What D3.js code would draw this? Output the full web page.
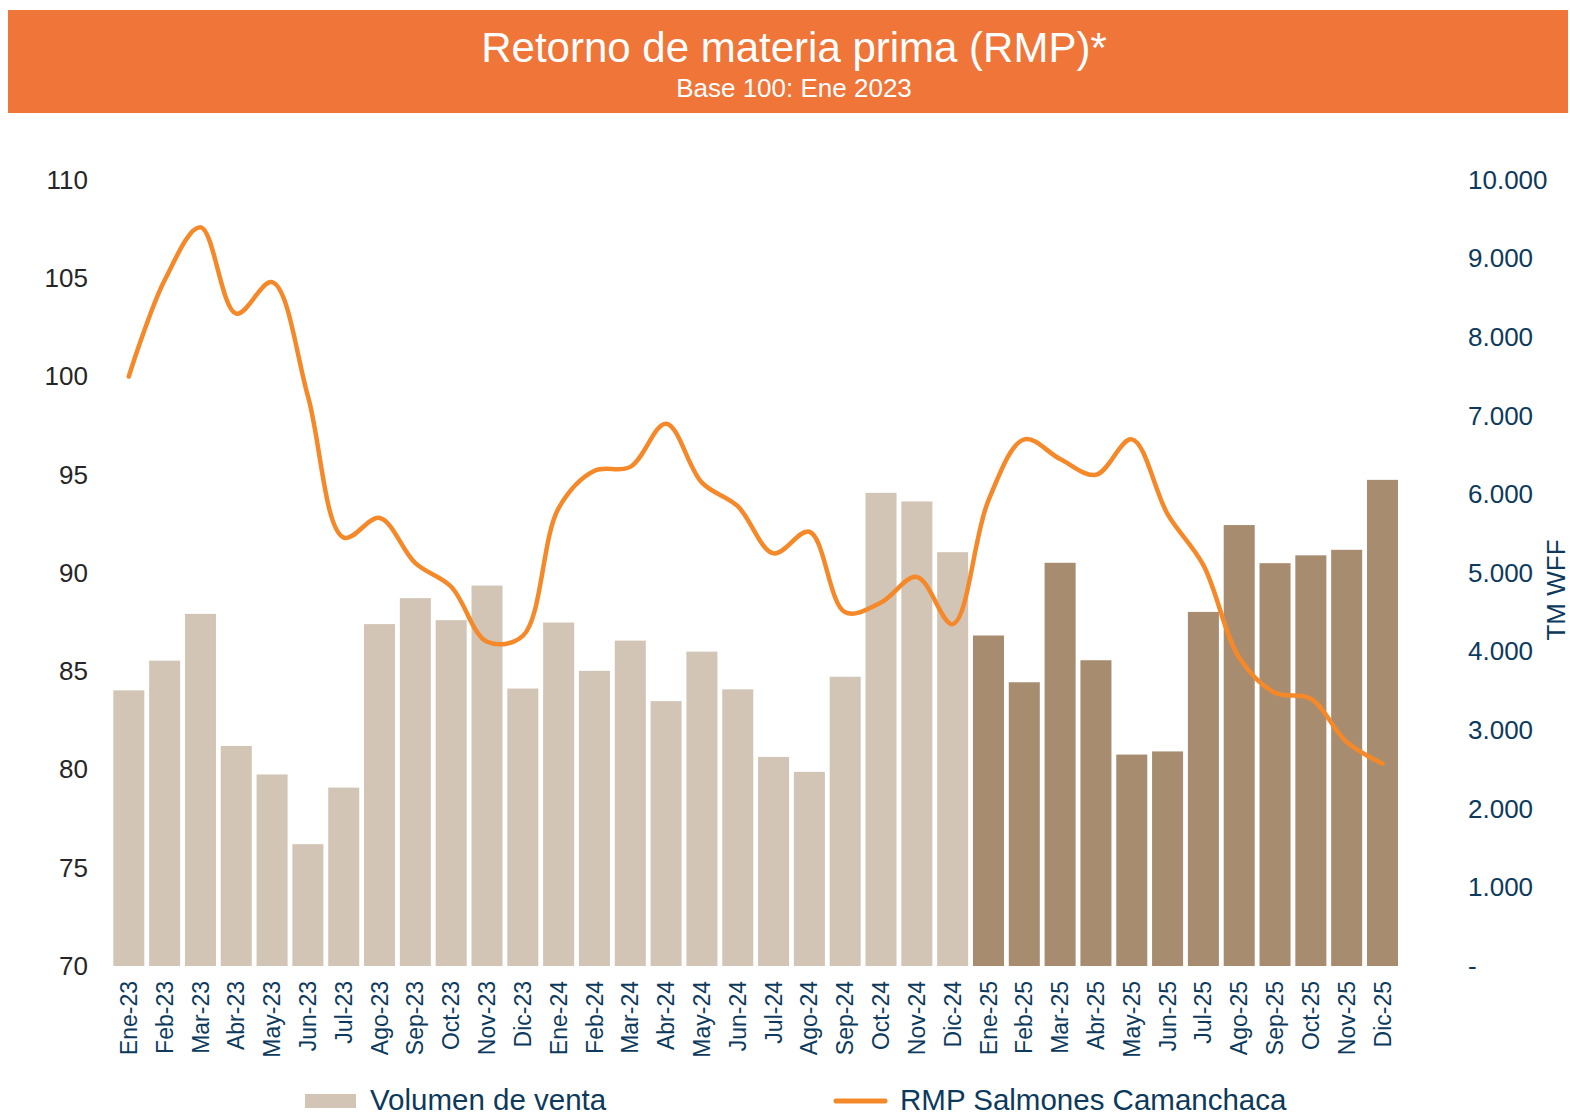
<!DOCTYPE html>
<html>
<head>
<meta charset="utf-8">
<script src="https://cdn.jsdelivr.net/npm/d3@7"></script>
<style>
  body { margin: 0; background: #fff; }
  text { font-family: "Liberation Sans", Arial, sans-serif; }
</style>
</head>
<body>
<div id="chart"></div>
<script>
// data
const months = ["Ene-23","Feb-23","Mar-23","Abr-23","May-23","Jun-23","Jul-23","Ago-23","Sep-23","Oct-23","Nov-23","Dic-23",
  "Ene-24","Feb-24","Mar-24","Abr-24","May-24","Jun-24","Jul-24","Ago-24","Sep-24","Oct-24","Nov-24","Dic-24",
  "Ene-25","Feb-25","Mar-25","Abr-25","May-25","Jun-25","Jul-25","Ago-25","Sep-25","Oct-25","Nov-25","Dic-25"];

// Volumen de venta (TM WFF, right axis)
const volumen = [3507, 3885, 4480, 2800, 2437, 1550, 2270, 4350, 4680, 4400, 4840, 3530,
  4370, 3755, 4140, 3370, 4000, 3520, 2660, 2470, 3680, 6020, 5910, 5265,
  4205, 3610, 5130, 3890, 2690, 2730, 4505, 5610, 5125, 5225, 5295, 6185];

// RMP Salmones Camanchaca (base 100, left axis)
const rmp = [100.0, 104.9, 107.6, 103.2, 104.8, 99.0, 91.8, 92.8, 90.5, 89.3, 86.5, 86.8,
  93.3, 95.2, 95.4, 97.6, 94.6, 93.4, 91.0, 92.1, 88.0, 88.5, 89.8, 87.4,
  93.7, 96.8, 95.8, 95.0, 96.8, 93.0, 90.4, 85.7, 83.9, 83.6, 81.4, 80.3];

const leftTicks = [70, 75, 80, 85, 90, 95, 100, 105, 110];
const rightTicks = [0, 1000, 2000, 3000, 4000, 5000, 6000, 7000, 8000, 9000, 10000];

const W = 1570, H = 1117;
const svg = d3.select("#chart").append("svg")
  .attr("width", W)
  .attr("height", H);

// header band
svg.append("rect")
  .attr("x", 8).attr("y", 10)
  .attr("width", 1560).attr("height", 103)
  .attr("fill", "#f07539");

svg.append("text")
  .attr("x", 794).attr("y", 62)
  .attr("text-anchor", "middle")
  .style("font-size", "42px")
  .attr("fill", "#fff")
  .text("Retorno de materia prima (RMP)*");

svg.append("text")
  .attr("x", 794).attr("y", 97)
  .attr("text-anchor", "middle")
  .style("font-size", "26px")
  .attr("fill", "#fff")
  .text("Base 100: Ene 2023");

// scales
const x = d3.scaleBand()
  .domain(months)
  .range([110.9, 1400.4])
  .paddingInner(0.134)
  .paddingOuter(0.067);

const yLeft = d3.scaleLinear().domain([70, 110]).range([966, 180]);
const yRight = d3.scaleLinear().domain([0, 10000]).range([966, 180]);

const es = d3.formatLocale({ decimal: ",", thousands: ".", grouping: [3], currency: ["$", ""] });
const fmtRight = function (d) { return d === 0 ? "-" : es.format(",")(d); };

// bars
svg.append("g")
  .selectAll("rect")
  .data(months)
  .enter().append("rect")
    .attr("x", function (d) { return x(d); })
    .attr("y", function (d, i) { return yRight(volumen[i]); })
    .attr("width", x.bandwidth())
    .attr("height", function (d, i) { return yRight(0) - yRight(volumen[i]); })
    .attr("fill", function (d) { return d.endsWith("-25") ? "#a78c6f" : "#d3c5b5"; });

// line
const line = d3.line()
  .x(function (d, i) { return x(months[i]) + x.bandwidth() / 2; })
  .y(function (d) { return yLeft(d); })
  .curve(d3.curveCatmullRom);

svg.append("path")
  .datum(rmp)
  .attr("d", line)
  .attr("fill", "none")
  .attr("stroke", "#f5892a")
  .attr("stroke-width", 4.5)
  .attr("stroke-linecap", "round");

// left axis
const leftAxis = svg.append("g")
  .attr("transform", "translate(88,0)")
  .call(d3.axisLeft(yLeft).tickValues(leftTicks).tickSize(0).tickPadding(0));
leftAxis.select(".domain").remove();
leftAxis.selectAll("text")
  .style("font-size", "26px")
  .style("font-family", "'Liberation Sans', Arial, sans-serif")
  .attr("fill", "#262626");

// right axis
const rightAxis = svg.append("g")
  .attr("transform", "translate(1468,0)")
  .call(d3.axisRight(yRight).tickValues(rightTicks).tickFormat(fmtRight).tickSize(0).tickPadding(0));
rightAxis.select(".domain").remove();
rightAxis.selectAll("text")
  .style("font-size", "26px")
  .style("font-family", "'Liberation Sans', Arial, sans-serif")
  .attr("fill", "#0d3a5c");

svg.append("text")
  .attr("transform", "translate(1565,590) rotate(-90)")
  .attr("text-anchor", "middle")
  .style("font-size", "26px")
  .attr("fill", "#0d3a5c")
  .text("TM WFF");

// x axis labels
const xAxis = svg.append("g")
  .attr("transform", "translate(0,966)")
  .call(d3.axisBottom(x).tickSize(0).tickPadding(0));
xAxis.select(".domain").remove();
xAxis.selectAll("text")
  .attr("transform", "rotate(-90)")
  .attr("x", -15)
  .attr("y", 0)
  .attr("dy", "0.35em")
  .attr("text-anchor", "end")
  .style("font-size", "23px")
  .style("font-family", "'Liberation Sans', Arial, sans-serif")
  .attr("fill", "#0d3a5c");

// legend
const legend = svg.append("g");
legend.append("rect")
  .attr("x", 305).attr("y", 1094)
  .attr("width", 51).attr("height", 14)
  .attr("fill", "#d3c5b5");
legend.append("text")
  .attr("x", 370).attr("y", 1110)
  .style("font-size", "29.5px")
  .attr("fill", "#0d3a5c")
  .text("Volumen de venta");
legend.append("line")
  .attr("x1", 836).attr("x2", 885)
  .attr("y1", 1101).attr("y2", 1101)
  .attr("stroke", "#f5892a")
  .attr("stroke-width", 5)
  .attr("stroke-linecap", "round");
legend.append("text")
  .attr("x", 900).attr("y", 1110)
  .style("font-size", "29.5px")
  .attr("fill", "#0d3a5c")
  .text("RMP Salmones Camanchaca");
</script>
</body>
</html>
